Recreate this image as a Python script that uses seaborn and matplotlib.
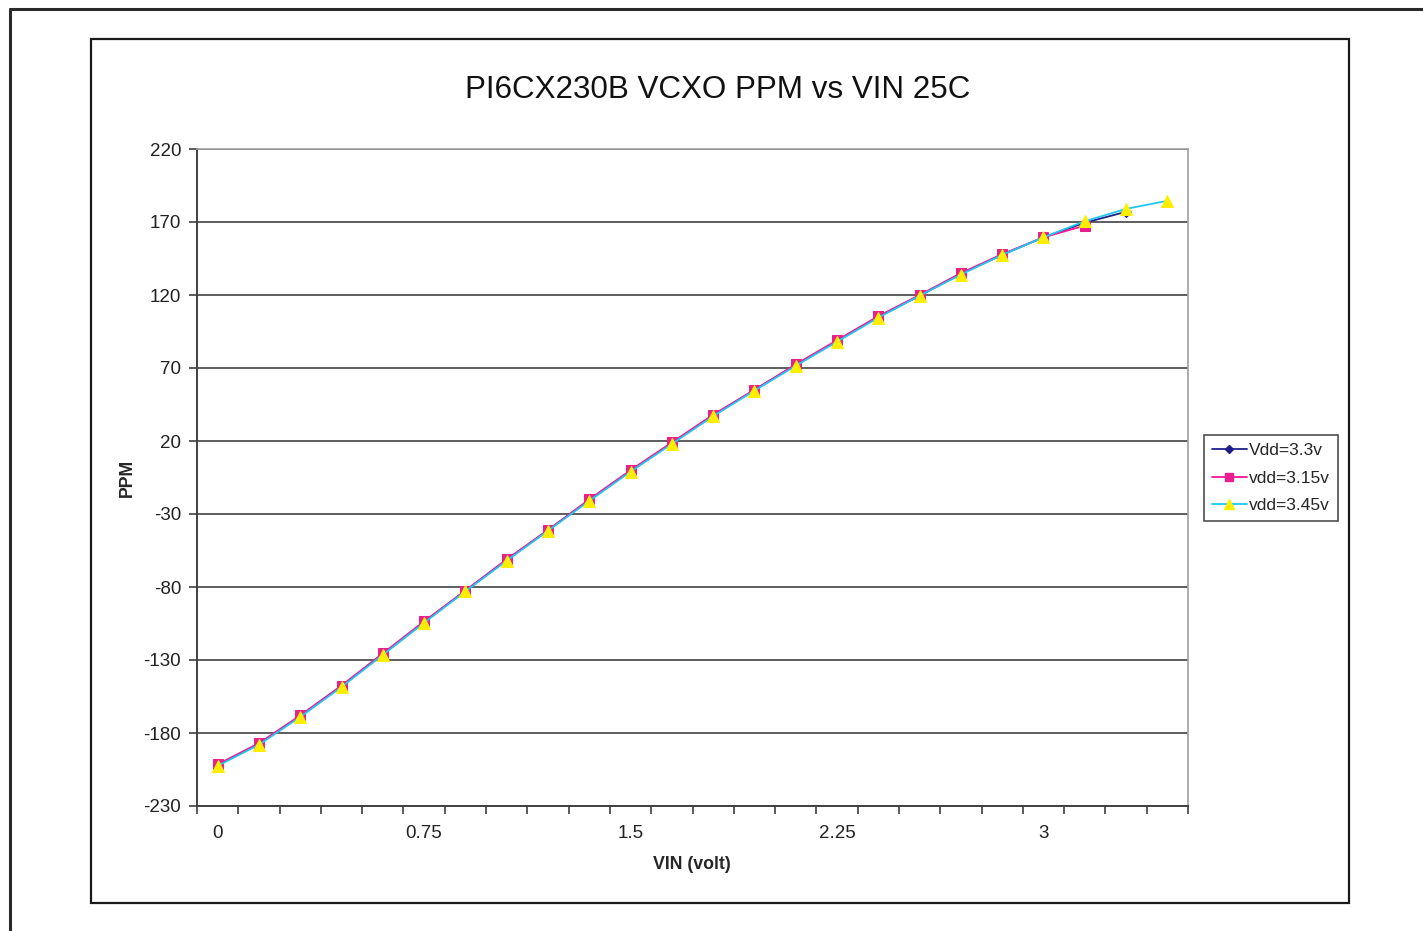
import numpy as np
import pandas as pd
import matplotlib
matplotlib.use("Agg")
import matplotlib.pyplot as plt
import seaborn as sns
from matplotlib.lines import Line2D
from matplotlib.patches import Rectangle

# ---- data ----
vin = [0, 0.15, 0.3, 0.45, 0.6, 0.75, 0.9, 1.05, 1.2, 1.35, 1.5, 1.65,
       1.8, 1.95, 2.1, 2.25, 2.4, 2.55, 2.7, 2.85, 3.0, 3.15, 3.3, 3.45]
vdd_33 = [-202, -187.5, -168.5, -148, -126, -104, -82.5, -61.5, -41, -20.5, -0.5, 18.5,
          37.5, 55, 72, 88.5, 105, 119.5, 134.5, 147.5, 159.5, 169.5, 177]
vdd_315 = [-201.5, -187, -168, -147.5, -125.5, -103.5, -82.5, -61, -41, -20, 0, 19,
           38, 55, 72.5, 89, 105.5, 120, 135, 148, 159.5, 167.5]
vdd_345 = [-202.5, -188, -169, -148.5, -126.5, -104.5, -83, -62, -41.5, -21, -1, 18,
           37, 54.5, 71.5, 88, 104.5, 119.5, 134, 147.5, 159.5, 170.5, 179, 184.5]
series_names = ["Vdd=3.3v", "vdd=3.15v", "vdd=3.45v"]
x_tick_labels = ["0", "0.75", "1.5", "2.25", "3"]
x_tick_vals = [0, 0.75, 1.5, 2.25, 3]
y_ticks = [-230, -180, -130, -80, -30, 20, 70, 120, 170, 220]

rows = []
for name, vals in zip(series_names, [vdd_33, vdd_315, vdd_345]):
    for x, y in zip(vin, vals):
        rows.append({"VIN": x, "PPM": y, "series": name})
df = pd.DataFrame(rows)

sns.set_style("white")
plt.rcParams["font.family"] = ["Liberation Sans", "DejaVu Sans"]

W, H = 1423, 931
fig = plt.figure(figsize=(W / 100, H / 100), dpi=100)
ax = fig.add_axes([197 / W, 1 - 806 / H, (1188 - 197) / W, (806 - 149) / H])

line_colors = {"Vdd=3.3v": "#1f1f8c", "vdd=3.15v": "#ff1493", "vdd=3.45v": "#1ec8f0"}
face_colors = {"Vdd=3.3v": "#1f1f8c", "vdd=3.15v": "#e8208f", "vdd=3.45v": "#ffee00"}
markers = {"Vdd=3.3v": "D", "vdd=3.15v": "s", "vdd=3.45v": "^"}
msizes = {"Vdd=3.3v": 5, "vdd=3.15v": 7, "vdd=3.45v": 8}

for name in series_names:
    sub = df[df["series"] == name]
    sns.lineplot(data=sub, x="VIN", y="PPM", ax=ax, color=line_colors[name],
                 marker=markers[name], markersize=msizes[name],
                 markerfacecolor=face_colors[name], markeredgecolor=face_colors[name],
                 linewidth=1.3, legend=False, sort=False)

ax.set_xlim(-0.075, 3.525)
ax.set_ylim(-230, 220)
ax.set_yticks(y_ticks)
ax.set_yticklabels([str(v) for v in y_ticks], fontsize=13.5, color="#222222")
ax.yaxis.grid(True, color="#505050", linewidth=1.3)
ax.set_axisbelow(True)

bounds = [-0.075 + 0.15 * k for k in range(25)]
ax.set_xticks(bounds)
ax.set_xticklabels([])
ax.set_xticks(x_tick_vals, minor=True)
ax.set_xticklabels(x_tick_labels, minor=True, fontsize=13.5, color="#222222")
ax.tick_params(axis="x", which="major", direction="out", length=6, width=1.2,
               color="#404040", bottom=True)
ax.tick_params(axis="x", which="minor", length=0, pad=14)
ax.tick_params(axis="y", which="major", direction="out", length=6, width=1.2,
               color="#404040", left=True, pad=5.5)

for s in ["left", "bottom"]:
    ax.spines[s].set_color("#404040")
    ax.spines[s].set_linewidth(1.4)
for s in ["top", "right"]:
    ax.spines[s].set_color("#a0a0a0")
    ax.spines[s].set_linewidth(1.2)

ax.set_xlabel("VIN (volt)", fontsize=12.8, fontweight="bold")
ax.set_ylabel("PPM", fontsize=12.8, fontweight="bold")
ax.xaxis.set_label_coords((692 - 197) / (1188 - 197), -(856 - 806) / (806 - 149))
ax.yaxis.set_label_coords(-(197 - 136) / (1188 - 197), (806 - 478) / (806 - 149))

fig.text(718 / W, 1 - 90 / H, "PI6CX230B VCXO PPM vs VIN 25C", fontsize=22.6,
         ha="center", va="center", color="#111111")

handles = [Line2D([0], [0], color=line_colors[n], marker=markers[n],
                  markersize=msizes[n] - 1, markerfacecolor=face_colors[n],
                  markeredgecolor=face_colors[n], linewidth=1.3) for n in series_names]
leg = fig.legend(handles, series_names, loc="upper left",
                 bbox_to_anchor=(1204 / W, 1 - 435 / H), fontsize=12.5,
                 frameon=True, fancybox=False, handlelength=2.0, handletextpad=0.15,
                 borderpad=0.45, labelspacing=0.72, borderaxespad=0)
leg.get_frame().set_edgecolor("#222222")
leg.get_frame().set_linewidth(1.2)

# inner chart frame
fig.add_artist(Rectangle((91 / W, 1 - 903 / H), (1349 - 91) / W, (903 - 39) / H,
                         transform=fig.transFigure, fill=False,
                         edgecolor="#1a1a1a", linewidth=1.6))
# outer page frame
fig.add_artist(Line2D([10 / W, 10 / W], [0, 1 - 9 / H], transform=fig.transFigure,
                      color="#2a2a2a", linewidth=2.2))
fig.add_artist(Line2D([10 / W, 1], [1 - 9 / H, 1 - 9 / H], transform=fig.transFigure,
                      color="#2a2a2a", linewidth=2.2))

fig.savefig("out.png", dpi=100)
